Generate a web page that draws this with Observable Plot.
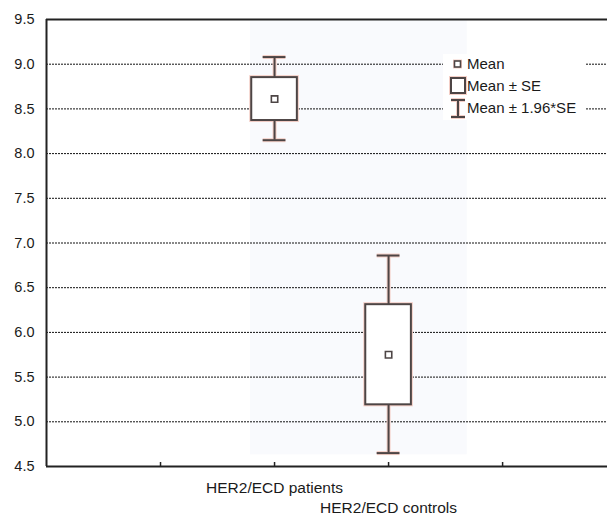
<!DOCTYPE html>
<html>
<head>
<meta charset="utf-8">
<script src="https://cdn.jsdelivr.net/npm/d3@7"></script>
<script src="https://cdn.jsdelivr.net/npm/@observablehq/plot@0.6"></script>
<style>
  html, body { margin: 0; padding: 0; background: #fff; }
  #chart svg { display: block; }
</style>
</head>
<body>
<div id="chart"></div>
<script>
// ---- data ----
const groups = ["HER2/ECD patients", "HER2/ECD controls"];
const positions = [2, 3];
const means = [8.61, 5.75];
const seLow = [8.37, 5.19];
const seHigh = [8.85, 6.31];
const ciLow = [8.15, 4.65];
const ciHigh = [9.08, 6.86];
const yTicks = [4.5, 5.0, 5.5, 6.0, 6.5, 7.0, 7.5, 8.0, 8.5, 9.0, 9.5];
const gridValues = [5.0, 5.5, 6.0, 6.5, 7.0, 7.5, 8.0, 8.5, 9.0];
const xTicks = [1, 2, 3, 4];
const legendLabels = ["Mean", "Mean \u00b1 SE", "Mean \u00b1 1.96*SE"];

const rows = groups.map((g, i) => ({
  group: g, pos: positions[i], mean: means[i],
  seLo: seLow[i], seHi: seHigh[i], ciLo: ciLow[i], ciHi: ciHigh[i]
}));

const xMax = 4.92;
const boxHalf = 0.2;
const capHalf = 0.1;
const lineCol = "#4d4545";
const halo = "#f4cfc7";
const font = "Liberation Sans, Arial, sans-serif";
const fs = 14.5;
const catFs = 15.5;
const legFs = 15;

const boxMarks = (stroke, sw) => [
  Plot.ruleX(rows, {x: "pos", y1: "seHi", y2: "ciHi", stroke, strokeWidth: sw}),
  Plot.ruleX(rows, {x: "pos", y1: "ciLo", y2: "seLo", stroke, strokeWidth: sw}),
  Plot.ruleY(rows, {y: "ciHi", x1: d => d.pos - capHalf, x2: d => d.pos + capHalf, stroke, strokeWidth: sw}),
  Plot.ruleY(rows, {y: "ciLo", x1: d => d.pos - capHalf, x2: d => d.pos + capHalf, stroke, strokeWidth: sw}),
  Plot.rect(rows, {x1: d => d.pos - boxHalf, x2: d => d.pos + boxHalf, y1: "seLo", y2: "seHi",
    fill: sw > 2 ? "none" : "white", stroke, strokeWidth: sw}),
  Plot.dot(rows, {x: "pos", y: "mean", symbol: "square", r: 3.6, fill: "white", stroke, strokeWidth: sw > 2 ? 3 : 1.6})
];

const chart = Plot.plot({
  width: 607,
  height: 515,
  marginLeft: 46,
  marginRight: 0,
  marginTop: 19,
  marginBottom: 49,
  style: {fontFamily: font, fontSize: fs + "px", color: "#1a1a1a", background: "white"},
  x: {domain: [0, xMax], axis: null},
  y: {domain: [4.5, 9.5], axis: null},
  marks: [
    // faint shaded band behind the boxes
    Plot.rect([rows], {
      x1: r => d3.min(r, d => d.pos) - 0.21,
      x2: r => d3.max(r, d => d.pos) + 0.69,
      y1: r => d3.min(r, d => d.ciLo) - 0.02,
      y2: 9.49,
      fill: "#f9fafd"
    }),
    Plot.ruleY(gridValues, {x1: 0, x2: xMax, stroke: "#111", strokeWidth: 1, strokeDasharray: "2,1"}),
    ...boxMarks(halo, 4),
    ...boxMarks(lineCol, 2),
    // frame
    Plot.ruleX([0], {y1: 4.5, y2: 9.5, stroke: "#222", strokeWidth: 2}),
    Plot.ruleY([4.5, 9.5], {x1: 0, x2: xMax, stroke: "#222", strokeWidth: 2}),
    // x ticks (inward)
    Plot.ruleX(xTicks, {y1: 4.5, y2: 4.5 + 4 / 89.4, stroke: "#222", strokeWidth: 1.5}),
    // y tick labels
    Plot.text(yTicks, {x: 0, y: d => d, text: d => d.toFixed(1), textAnchor: "end", dx: -12, fontSize: fs, fill: "#1a1a1a"}),
    // category labels (staggered)
    Plot.text(rows.filter((d, i) => i % 2 === 0), {x: "pos", y: 4.5, text: "group", dy: 22, fontSize: catFs, fill: "#1a1a1a"}),
    Plot.text(rows.filter((d, i) => i % 2 === 1), {x: "pos", y: 4.5, text: "group", dy: 42, fontSize: catFs, fill: "#1a1a1a"})
  ]
});

document.getElementById("chart").appendChild(chart);

// legend, drawn on top of the gridlines
const svg = d3.select(chart);
const lg = svg.append("g").attr("text-anchor", "start");
lg.append("rect").attr("x", 443).attr("y", 54).attr("width", 142).attr("height", 66).attr("fill", "white");
const items = [
  {y: 64, draw: (g, c, w) => g.append("rect").attr("x", 454.5).attr("y", 61).attr("width", 6).attr("height", 6).attr("fill", "white").attr("stroke", c).attr("stroke-width", w === 4 ? 3 : 1.6)},
  {y: 86, draw: (g, c, w) => g.append("rect").attr("x", 451).attr("y", 78).attr("width", 14).attr("height", 15).attr("fill", "white").attr("stroke", c).attr("stroke-width", w)},
  {y: 108, draw: (g, c, w) => {
    g.append("line").attr("x1", 458).attr("x2", 458).attr("y1", 100).attr("y2", 117).attr("stroke", c).attr("stroke-width", w);
    g.append("line").attr("x1", 451).attr("x2", 465).attr("y1", 100).attr("y2", 100).attr("stroke", c).attr("stroke-width", w);
    g.append("line").attr("x1", 451).attr("x2", 465).attr("y1", 117).attr("y2", 117).attr("stroke", c).attr("stroke-width", w);
  }}
];
items.forEach((it, i) => {
  it.draw(lg, halo, 4);
  it.draw(lg, lineCol, 2);
  lg.append("text").attr("x", 467).attr("y", it.y).attr("dy", "0.35em").attr("text-anchor", "start")
    .attr("font-family", font).attr("font-size", legFs).attr("fill", "#1a1a1a").text(legendLabels[i]);
});
</script>
</body>
</html>
